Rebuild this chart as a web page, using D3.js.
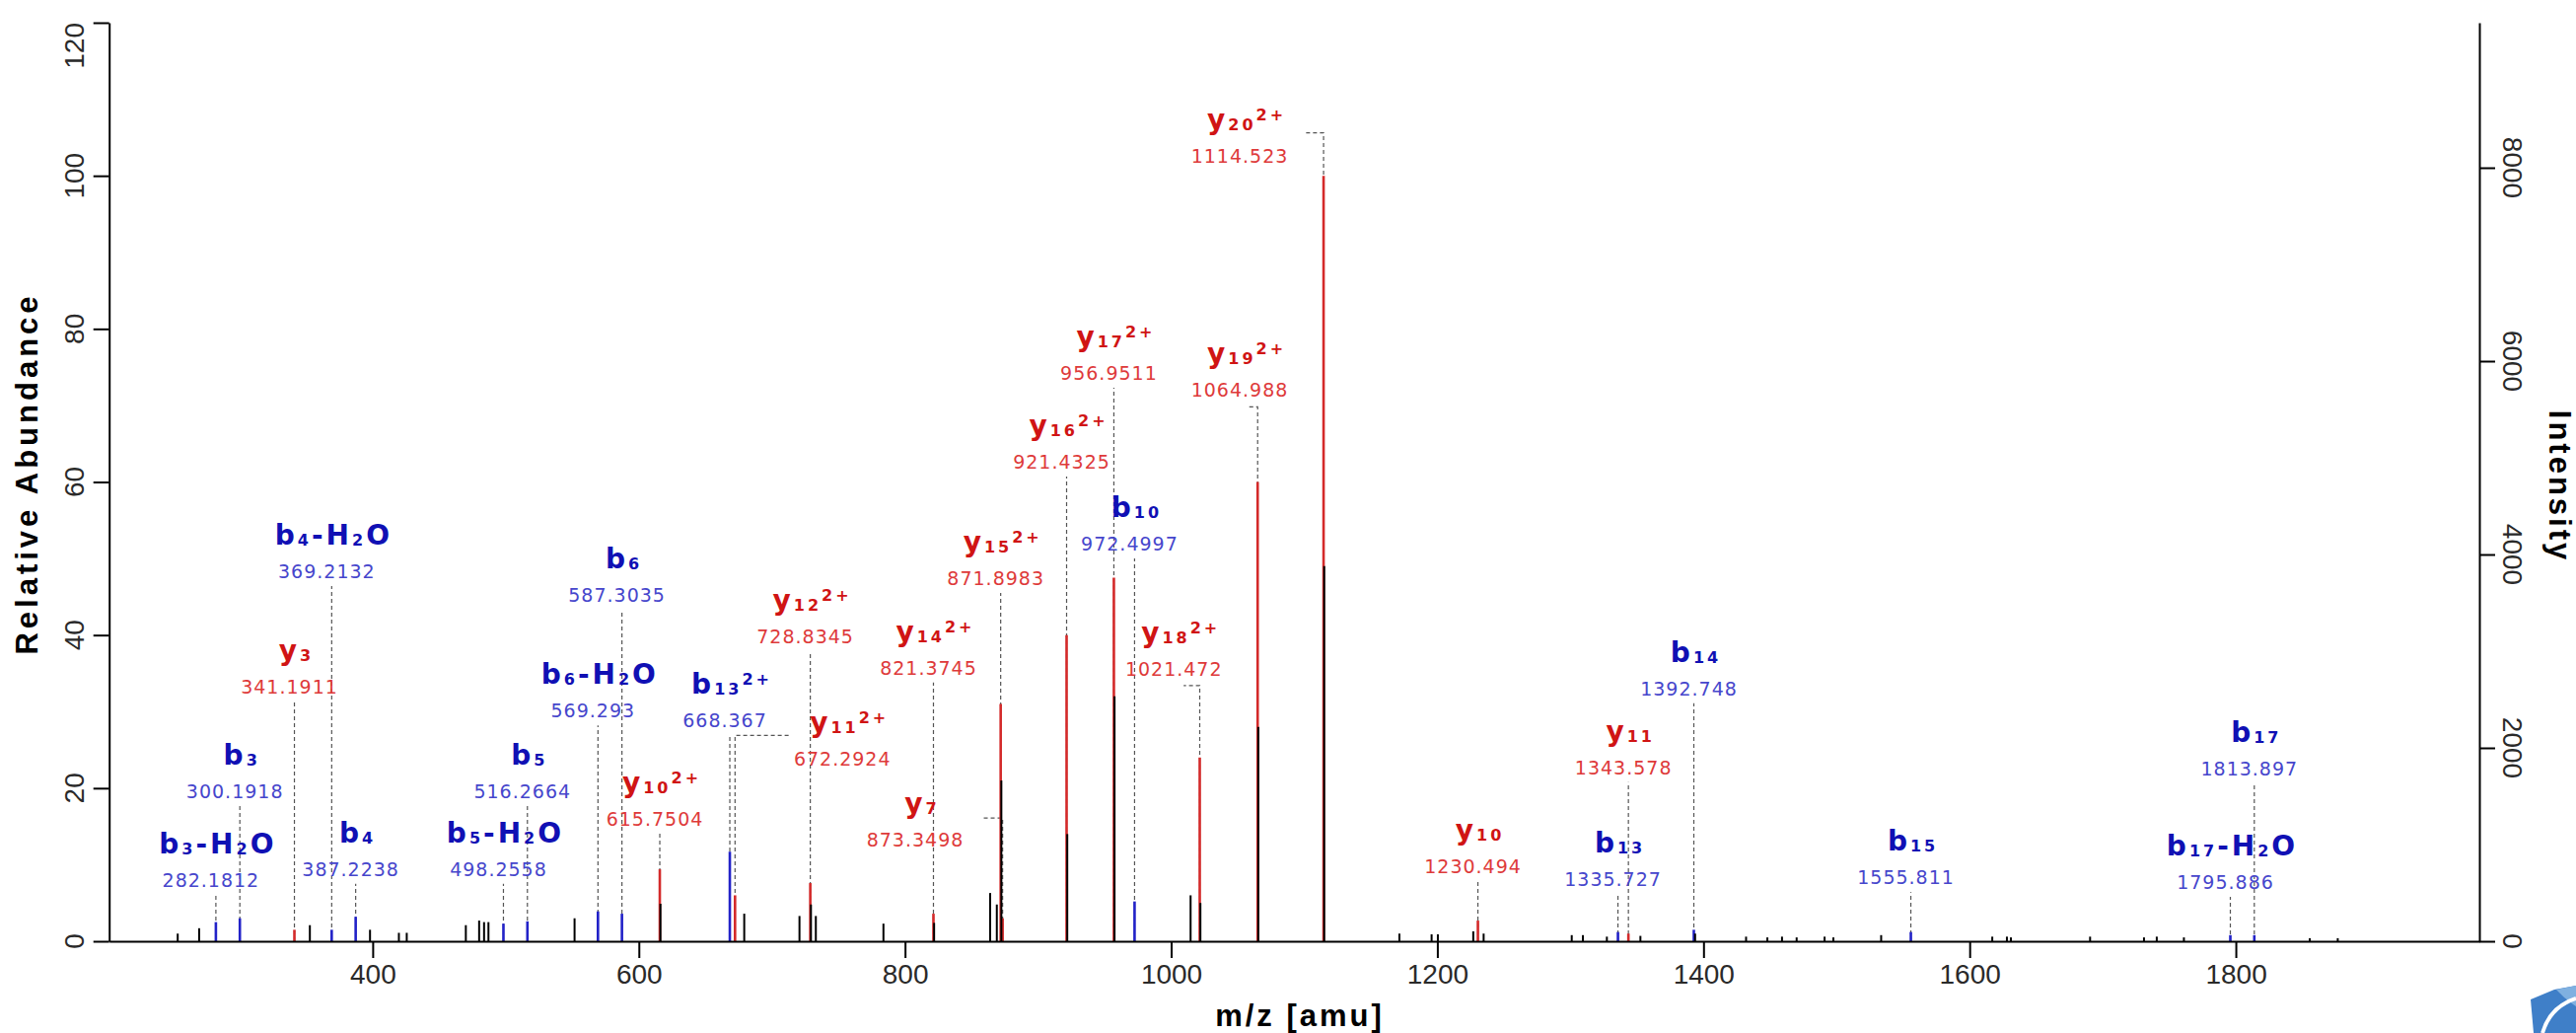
<!DOCTYPE html>
<html>
<head>
<meta charset="utf-8">
<script src="https://cdn.jsdelivr.net/npm/d3@7/dist/d3.min.js"></script>
<style>
  body { margin: 0; background: #fff; }
  svg { display: block; background: #fff; }
</style>
</head>
<body>
<svg id="graph" width="2612" height="1047"></svg>
<script>
// espectro: m/z, abundancia relativa (%) y tipo de ion (k = sin asignar, b = ion b, r = ion y)
const peakMz = [253.5, 269.6, 282.18, 300.19, 341.19, 352.8, 369.21, 387.22, 398.0, 419.7, 425.6,
  470.0, 480.0, 483.7, 487.0, 498.26, 516.27, 551.7, 569.29, 587.30, 615.75, 616.25,
  668.37, 672.29, 679.2, 720.7, 728.83, 729.33, 733.0, 783.8, 821.37, 821.87, 864.0, 869.0,
  871.90, 872.40, 873.35, 921.43, 921.93, 956.95, 957.45, 972.50, 1014.6, 1021.47, 1021.97,
  1064.99, 1065.49, 1114.52, 1115.02, 1171.5, 1195.7, 1200.4, 1227.0, 1230.49, 1234.8,
  1301.0, 1309.4, 1327.4, 1335.73, 1343.58, 1352.6, 1392.75, 1393.7, 1432.0, 1448.0, 1459.0,
  1470.0, 1491.0, 1497.6, 1533.5, 1555.81, 1617.0, 1628.0, 1631.0, 1690.5, 1731.0, 1740.6,
  1761.0, 1795.89, 1813.90, 1855.6, 1876.6];
const peakInt = [1.0, 1.7, 2.5, 3.0, 1.5, 2.1, 1.5, 3.2, 1.5, 1.1, 1.1,
  2.1, 2.7, 2.5, 2.5, 2.3, 2.6, 3.0, 3.9, 3.6, 9.4, 4.9,
  11.7, 6.0, 3.6, 3.3, 7.6, 4.8, 3.3, 2.3, 3.6, 2.4, 6.3, 4.8,
  31.0, 21.0, 3.0, 40.0, 14.0, 47.5, 32.0, 5.2, 6.0, 24.0, 5.0,
  60.0, 28.0, 100, 49.0, 1.0, 0.9, 0.9, 1.3, 2.7, 1.0,
  0.8, 0.8, 0.6, 1.2, 1.0, 0.7, 1.5, 1.0, 0.6, 0.5, 0.6,
  0.5, 0.6, 0.5, 0.8, 1.2, 0.6, 0.6, 0.5, 0.6, 0.5, 0.6,
  0.5, 0.8, 0.8, 0.4, 0.4];
const peakIon = ["k", "k", "b", "b", "r", "k", "b", "b", "k", "k", "k",
  "k", "k", "k", "k", "b", "b", "k", "b", "b", "r", "k",
  "b", "r", "k", "k", "r", "k", "k", "k", "r", "k", "k", "k",
  "r", "k", "r", "r", "k", "r", "k", "b", "k", "r", "k",
  "r", "k", "r", "k", "k", "k", "k", "k", "r", "k",
  "k", "k", "k", "b", "r", "k", "b", "k", "k", "k", "k",
  "k", "k", "k", "k", "b", "k", "k", "k", "k", "k", "k",
  "k", "b", "b", "k", "k"];

// anotaciones: nombre del ion (_ subindice, ^ carga), m/z y altura de la etiqueta (%)
const annIon = ["b_3-H_2O", "b_3", "y_3", "b_4-H_2O", "b_4", "b_5-H_2O", "b_5", "b_6-H_2O", "b_6",
  "y_10^2+", "b_13^2+", "y_11^2+", "y_12^2+", "y_7", "y_14^2+", "y_15^2+", "y_16^2+", "y_17^2+",
  "b_10", "y_18^2+", "y_19^2+", "y_20^2+", "y_10", "b_13", "y_11", "b_14", "b_15", "b_17-H_2O", "b_17"];
const annMz = ["282.1812", "300.1918", "341.1911", "369.2132", "387.2238", "498.2558", "516.2664",
  "569.293", "587.3035", "615.7504", "668.367", "672.2924", "728.8345", "873.3498", "821.3745",
  "871.8983", "921.4325", "956.9511", "972.4997", "1021.472", "1064.988", "1114.523", "1230.494",
  "1335.727", "1343.578", "1392.748", "1555.811", "1795.886", "1813.897"];
const annLevel = [6.0, 17.7, 31.3, 46.4, 7.5, 7.5, 17.7, 28.2, 43.3,
  14.1, 26.9, 26.9, 37.9, 16.1, 33.8, 45.5, 60.7, 72.3,
  50.0, 33.4, 69.8, 105.6, 7.8, 6.2, 20.8, 31.1, 6.4, 5.8, 20.6];
// etiquetas desplazadas de su pico (indice -> m/z de la etiqueta, altura, fin del conector)
const movedIdx = [11, 13, 19, 20, 21];
const movedLabMz = [753, 807.7, 1002, 1051.5, 1051.5];
const movedLabLevel = [23.0, 12.4, 34.7, 71.1, 101.7];
const movedJogMz = [713, 857.3, 1009.4, 1058.2, 1100.4];

// ticks
const xMajor = [400, 600, 800, 1000, 1200, 1400, 1600, 1800];
const yMajor = [0, 20, 40, 60, 80, 100, 120];
const y2Major = [0, 2000, 4000, 6000, 8000];

function creaGrafica() {
    const svg = d3.select("#graph");
    const left = 110.7, right = 2514, top = 23, base = 954;

    const x = d3.scaleLinear().domain([202, 1983]).range([left, right]);
    const y = d3.scaleLinear().domain([0, 120]).range([base, top]);
    const y2 = d3.scaleLinear().domain([0, 9500]).range([base, top]);

    const colores = { k: "#000000", b: "#2222c8", r: "#d42a2a" };
    const colNombre = { b: "#1010b4", y: "#d01414" };
    const colNumero = { b: "#4646cc", y: "#de3a3a" };

    // conectores punteados (detras de los picos)
    const gCon = svg.append("g");
    annMz.forEach((m, i) => {
        const mz = +m;
        const k = movedIdx.indexOf(i);
        let d = "M" + x(mz) + "," + y(0) + "V" + y(annLevel[i]);
        if (k >= 0) d += "H" + x(movedJogMz[k]);
        gCon.append("path")
            .attr("d", d)
            .attr("fill", "none")
            .attr("stroke", "#555")
            .attr("stroke-width", 1.2)
            .attr("stroke-dasharray", "4,3");
    });

    // picos: primero los coloreados, luego los negros encima
    const peaks = peakMz.map((m, i) => ({ mz: m, val: peakInt[i], ion: peakIon[i] }));
    const orden = peaks.filter(d => d.ion !== "k").concat(peaks.filter(d => d.ion === "k"));
    svg.append("g")
        .selectAll("line")
        .data(orden)
        .enter().append("line")
        .attr("x1", d => x(d.mz))
        .attr("x2", d => x(d.mz))
        .attr("y1", y(0))
        .attr("y2", d => y(d.val))
        .attr("stroke", d => colores[d.ion])
        .attr("stroke-width", d => d.ion === "k" ? 2 : 2.6);

    // ejes
    const gx = svg.append("g").attr("transform", "translate(0," + base + ")");
    gx.call(d3.axisBottom(x).tickValues(d3.range(250, 1983, 50)).tickSize(10).tickSizeOuter(0).tickFormat(""));
    gx.call(d3.axisBottom(x).tickValues(xMajor).tickSize(17).tickSizeOuter(0).tickPadding(6).tickFormat(d3.format("d")));
    gx.selectAll("text")
        .style("font-family", "'Liberation Sans', Arial, sans-serif")
        .style("font-size", "28px")
        .attr("fill", "#2a2a2a");

    const gy = svg.append("g").attr("transform", "translate(" + left + ",0)");
    gy.call(d3.axisLeft(y).tickValues(d3.range(0, 121, 5)).tickSize(9).tickSizeOuter(0).tickFormat(""));
    gy.call(d3.axisLeft(y).tickValues(yMajor).tickSize(16).tickSizeOuter(0).tickFormat(""));

    const gy2 = svg.append("g").attr("transform", "translate(" + right + ",0)");
    gy2.call(d3.axisRight(y2).tickValues(d3.range(0, 9501, 500)).tickSize(10).tickSizeOuter(0).tickFormat(""));
    gy2.call(d3.axisRight(y2).tickValues(y2Major).tickSize(16).tickSizeOuter(0).tickFormat(""));

    svg.selectAll(".domain, .tick line").attr("stroke", "#000").attr("stroke-width", 2);

    // etiquetas rotadas de los ejes verticales
    svg.append("g").selectAll("text")
        .data(yMajor)
        .enter().append("text")
        .attr("transform", d => "translate(85," + y(d) + ") rotate(-90)")
        .attr("text-anchor", d => d === 120 ? "end" : "middle")
        .style("font-family", "'Liberation Sans', Arial, sans-serif")
        .style("font-size", "28px")
        .attr("fill", "#2a2a2a")
        .text(d => d);

    svg.append("g").selectAll("text")
        .data(y2Major)
        .enter().append("text")
        .attr("transform", d => "translate(2538," + y2(d) + ") rotate(90)")
        .attr("text-anchor", "middle")
        .style("font-family", "'Liberation Sans', Arial, sans-serif")
        .style("font-size", "28px")
        .attr("fill", "#2a2a2a")
        .text(d => d);

    // titulos de los ejes
    const titulo = { "font-family": "'Liberation Sans', Arial, sans-serif", "font-size": "31px", "font-weight": "bold" };
    const t1 = svg.append("text").attr("transform", "translate(38,480) rotate(-90)").attr("text-anchor", "middle")
        .style("letter-spacing", "4px").text("Relative Abundance");
    const t2 = svg.append("text").attr("transform", "translate(2585,493) rotate(90)").attr("text-anchor", "middle")
        .style("letter-spacing", "3px").text("Intensity");
    const t3 = svg.append("text").attr("x", 1318).attr("y", 1040).attr("text-anchor", "middle")
        .style("letter-spacing", "3px").text("m/z [amu]");
    [t1, t2, t3].forEach(t => Object.keys(titulo).forEach(k => t.style(k, titulo[k])));

    // etiquetas de iones
    const gLab = svg.append("g");
    annMz.forEach((m, i) => {
        const mz = +m;
        const tipo = annIon[i][0];
        const k = movedIdx.indexOf(i);
        let cx, by;
        if (k >= 0) {
            cx = x(movedLabMz[k]);
            by = y(movedLabLevel[k]);
        } else {
            cx = x(mz) - 5;
            by = y(annLevel[i]) - 8;
        }
        gLab.append("text")
            .attr("x", cx).attr("y", by)
            .attr("text-anchor", "middle")
            .style("font-family", "'DejaVu Sans', sans-serif")
            .style("font-size", "19px")
            .style("letter-spacing", "1px")
            .attr("fill", colNumero[tipo])
            .text(m);

        const nom = gLab.append("text")
            .attr("x", cx + 7).attr("y", by - 34)
            .attr("text-anchor", "middle")
            .style("font-family", "'DejaVu Sans', sans-serif")
            .style("font-weight", "bold")
            .style("letter-spacing", "3px")
            .attr("fill", colNombre[tipo]);
        const shift = { n: 0, sub: 1, sup: -9 };
        const fsz = { n: 28, sub: 16, sup: 16 };
        let prev = 0;
        partesIon(annIon[i]).forEach(p => {
            nom.append("tspan")
                .attr("dy", shift[p.k] - prev)
                .style("font-size", fsz[p.k] + "px")
                .text(p.t);
            prev = shift[p.k];
        });
    });

    // logo (recortado en la esquina)
    const logo = svg.append("g");
    logo.append("path")
        .attr("d", "M2566,1013 L2590,1003 L2612,999 L2612,1047 L2569,1047 Z")
        .attr("fill", "#3f7fc8");
    logo.append("path")
        .attr("d", "M2592,1003 L2612,999 L2612,1020 Q2600,1012 2592,1003 Z")
        .attr("fill", "#7fb0e0");
    logo.append("path")
        .attr("d", "M2578,1047 Q2586,1020 2612,1012")
        .attr("fill", "none").attr("stroke", "#fff").attr("stroke-width", 4);
}

function partesIon(s) {
    const parts = [];
    let i = 0, cur = "";
    while (i < s.length) {
        const c = s[i];
        if (c === "_") {
            if (cur) parts.push({ t: cur, k: "n" });
            cur = "";
            let j = i + 1, d = "";
            while (j < s.length && /[0-9]/.test(s[j])) { d += s[j]; j++; }
            parts.push({ t: d, k: "sub" });
            i = j;
            continue;
        }
        if (c === "^") {
            if (cur) parts.push({ t: cur, k: "n" });
            cur = "";
            parts.push({ t: s.slice(i + 1), k: "sup" });
            break;
        }
        cur += c;
        i++;
    }
    if (cur) parts.push({ t: cur, k: "n" });
    return parts;
}

creaGrafica();
</script>
</body>
</html>
